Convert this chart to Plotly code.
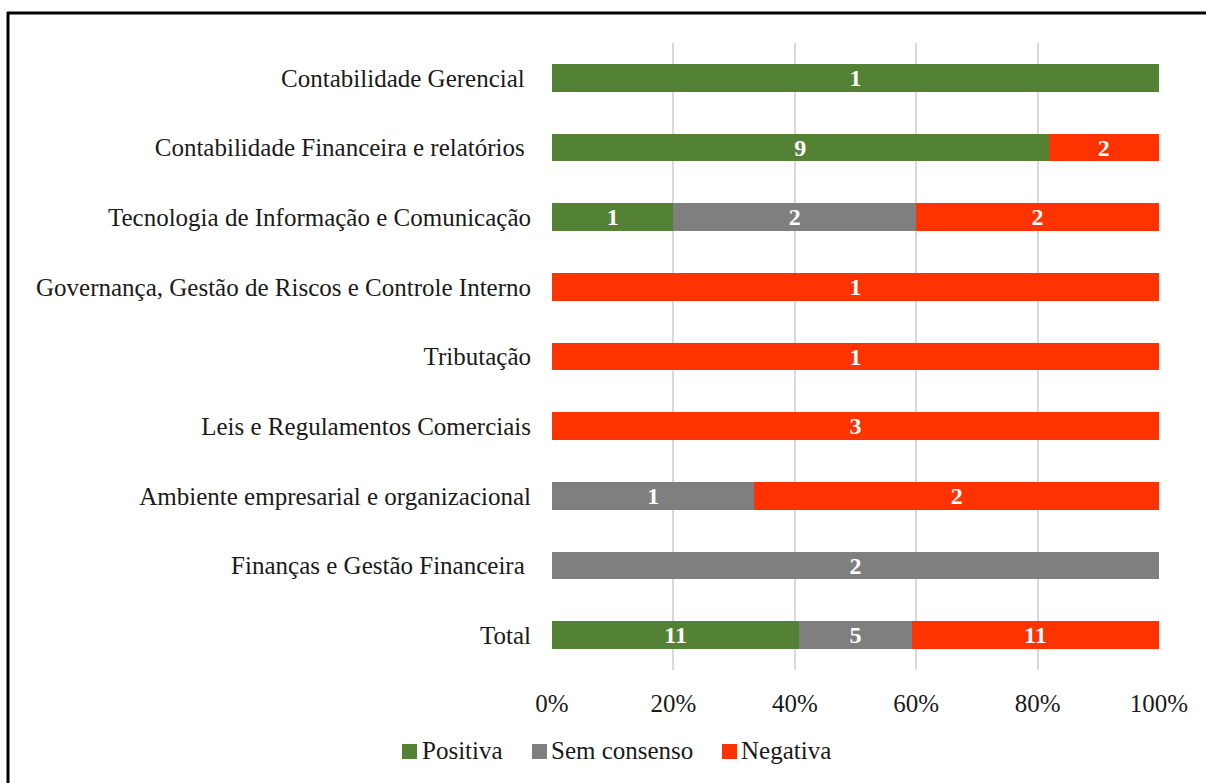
import plotly.graph_objects as go

categories = [
    "Contabilidade Gerencial\u00a0",
    "Contabilidade Financeira e relatórios\u00a0",
    "Tecnologia de Informação e Comunicação",
    "Governança, Gestão de Riscos e Controle Interno",
    "Tributação",
    "Leis e Regulamentos Comerciais",
    "Ambiente empresarial e organizacional",
    "Finanças e Gestão Financeira\u00a0",
    "Total",
]
positiva = [1, 9, 1, 0, 0, 0, 0, 0, 11]
sem_consenso = [0, 0, 2, 0, 0, 0, 1, 2, 5]
negativa = [0, 2, 2, 1, 1, 3, 2, 0, 11]
tick_vals = [0, 20, 40, 60, 80, 100]
tick_text = ["0%", "20%", "40%", "60%", "80%", "100%"]
series_names = ["Positiva", "Sem consenso", "Negativa"]

series = [
    (series_names[0], positiva, "#548235"),
    (series_names[1], sem_consenso, "#7f7f7f"),
    (series_names[2], negativa, "#ff3300"),
]

FONT = "Liberation Serif, Times New Roman, serif"
TXT = "#1a1a1a"

fig = go.Figure()
for name, vals, color in series:
    fig.add_trace(go.Bar(
        y=categories,
        x=[v if v else None for v in vals],
        name=name,
        orientation="h",
        marker=dict(color=color, line=dict(width=0)),
        text=[str(v) if v else "" for v in vals],
        textposition="inside",
        insidetextanchor="middle",
        constraintext="none",
        textfont=dict(family=FONT, size=24, color="white", weight="bold"),
        textangle=0,
        showlegend=False,
    ))

W, H = 1206, 783
L, R, T, B = 552, 47, 43, 113

fig.update_layout(
    width=W, height=H,
    barmode="stack",
    barnorm="percent",
    bargap=0.6,
    plot_bgcolor="white",
    paper_bgcolor="white",
    margin=dict(l=L, r=R, t=T, b=B, autoexpand=False),
    font=dict(family=FONT, size=25, color=TXT),
    xaxis=dict(
        range=[0, 100],
        tickvals=tick_vals,
        ticktext=tick_text,
        showgrid=True,
        gridcolor="#d9d9d9",
        gridwidth=1.5,
        zeroline=False,
        showline=False,
        ticks="",
        ticklabelstandoff=16,
        tickfont=dict(family=FONT, size=25, color=TXT),
    ),
    yaxis=dict(
        categoryorder="array",
        categoryarray=categories,
        autorange="reversed",
        showgrid=False,
        showline=False,
        ticks="",
        ticklabelstandoff=20,
        tickfont=dict(family=FONT, size=25, color=TXT),
    ),
    showlegend=False,
)

pw = W - L - R
ph = H - T - B
def px_x(x):
    return (x - L) / pw
def px_y(y):
    return 1 - (y - T) / ph

# frame
fig.add_shape(type="line", xref="paper", yref="paper",
              x0=px_x(7), x1=px_x(1210), y0=px_y(13), y1=px_y(13),
              line=dict(color="black", width=3))
fig.add_shape(type="line", xref="paper", yref="paper",
              x0=px_x(8), x1=px_x(8), y0=px_y(12), y1=px_y(790),
              line=dict(color="black", width=3))

# legend (custom, tight like the original)
legend_sq = [402, 532, 722]
legend_txt = [420, 549, 739]
for (name, _, color), sx, tx in zip(series, legend_sq, legend_txt):
    fig.add_shape(type="rect", xref="paper", yref="paper",
                  x0=px_x(sx), x1=px_x(sx + 15), y0=px_y(744), y1=px_y(759),
                  fillcolor=color, line=dict(width=0))
    fig.add_annotation(
        xref="paper", yref="paper",
        x=px_x(tx), y=px_y(751),
        xanchor="left", yanchor="middle",
        showarrow=False,
        text=name,
        font=dict(family=FONT, size=25, color=TXT),
    )

fig.write_html("out.html")
